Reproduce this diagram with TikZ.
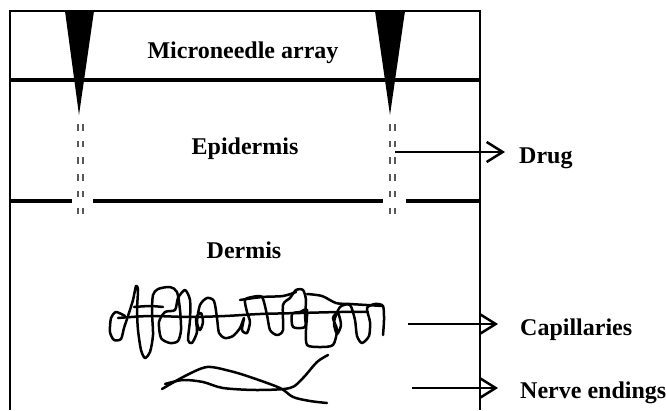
\documentclass[tikz,border=0pt]{standalone}
\usepackage{fontspec}
\setmainfont{Liberation Serif}
\usetikzlibrary{arrows.meta}
\begin{document}
\begin{tikzpicture}[x=1pt,y=-1pt,
  frame/.style={line width=2.8pt},
  layerline/.style={line width=3.2pt},
  needle/.style={fill=black,draw=none},
  drugdash/.style={draw=black!65,line width=2pt,dash pattern=on 6.5pt off 10.2pt},
  vessel/.style={line width=2.5pt,line cap=round,line join=round},
  lbl/.style={font=\fontsize{24}{27}\selectfont\bfseries,inner sep=0pt},
  pointer/.style={line width=2.5pt,-{Straight Barb[length=16pt,width=20pt,line width=2.5pt]}}]
\useasboundingbox (0,0) rectangle (666,410);

% skin block outline and the array/epidermis boundary
\draw[frame] (10,410) -- (10,11) -- (480,11) -- (480,410);
\draw[layerline] (10,80) -- (480,80);

% epidermis/dermis boundary, broken where the channels pass
\draw[layerline] (10,201) -- (72,201);
\draw[layerline] (93,201) -- (383,201);
\draw[layerline] (406,201) -- (480,201);

% needles
\fill[needle] (65,11) -- (94,11) -- (79,115) -- cycle;
\fill[needle] (375,11) -- (405,11) -- (390,115) -- cycle;

% drug channels below the needle tips
\foreach \x in {78.3,82.7,390,395}
  \draw[drugdash] (\x,124) -- (\x,214);

% layer names
\node[lbl,anchor=base] (array) at (243,58) {Microneedle array};
\node[lbl,anchor=base] (epi) at (245,154) {Epidermis};
\node[lbl,anchor=base] (derm) at (244,258) {Dermis};

% capillary tangle
\draw[vessel] plot[smooth,tension=0.45] coordinates {
 (125,316) (116,312) (111,318) (110,332) (114,340) (121,339) (124,328) (128,316)
 (133,300) (136,286) (138,290) (137,310) (138,330) (141,350) (145,358) (150,352)
 (153,335) (152,312) (153,295) (158,289) (170,287) (177,292) (180,310) (181,330)
 (178,341) (170,343) (161,338) (159,322) (165,312) (175,310) (178,298) (185,290)
 (190,300) (190,320) (188,340) (192,343) (197,332) (196,318) (201,313) (203,322)
 (200,330) (197,322) (200,305) (207,298) (214,301) (217,318) (219,333) (225,338)
 (233,336) (240,328) (244,318) (242,330) (247,333) (250,322) (247,312) (245,300)
 (252,297) (262,297) (267,315) (270,330) (277,335) (283,330) (283,305) (290,298)
 (296,290) (303,290) (306,300) (305,315) (305,327) (293,327) (292,314) (300,312)
 (307,310) (306,330) (307,345) (320,347) (333,345) (337,330) (333,318) (338,313)
 (341,325) (337,334) (334,322) (340,307) (350,305) (355,320) (357,336) (362,343)
 (369,336) (370,322) (367,308) (375,304) (383,306) (384,320) (383,335)};
\draw[vessel] plot[smooth] coordinates {
 (118,318) (150,316) (190,317) (225,316) (260,314) (300,313) (340,312) (368,312)};
\draw[vessel] plot[smooth] coordinates {(134,307) (150,306) (163,307)};
\draw[vessel] plot[smooth] coordinates {(240,300) (262,297) (283,296) (296,292)};
\draw[vessel] plot[smooth] coordinates {(307,294) (322,296) (336,303) (350,304) (383,306)};

% nerve fibres
\draw[vessel] plot[smooth] coordinates {
 (162,389) (185,376) (207,367) (230,371) (250,377) (280,388) (293,397) (310,401) (327,403)};
\draw[vessel] plot[smooth] coordinates {
 (165,384) (183,380) (203,382) (223,388) (257,390) (290,388) (303,378) (317,362) (328,355)};

% side labels
\node[lbl,anchor=base west] (drug) at (519,163) {Drug};
\node[lbl,anchor=base west] (cap) at (520,335) {Capillaries};
\node[lbl,anchor=base west] (nerve) at (520,398) {Nerve endings};

% pointers
\coordinate (drugfrom) at (395,152);
\coordinate (drugto) at (505,152);
\coordinate (capfrom) at (408,324);
\coordinate (capto) at (498,324);
\coordinate (nervefrom) at (412,388);
\coordinate (nerveto) at (498,388);
\draw[pointer] (drugfrom) -- (drugto);
\draw[pointer] (capfrom) -- (capto);
\draw[pointer] (nervefrom) -- (nerveto);
\end{tikzpicture}
\end{document}
